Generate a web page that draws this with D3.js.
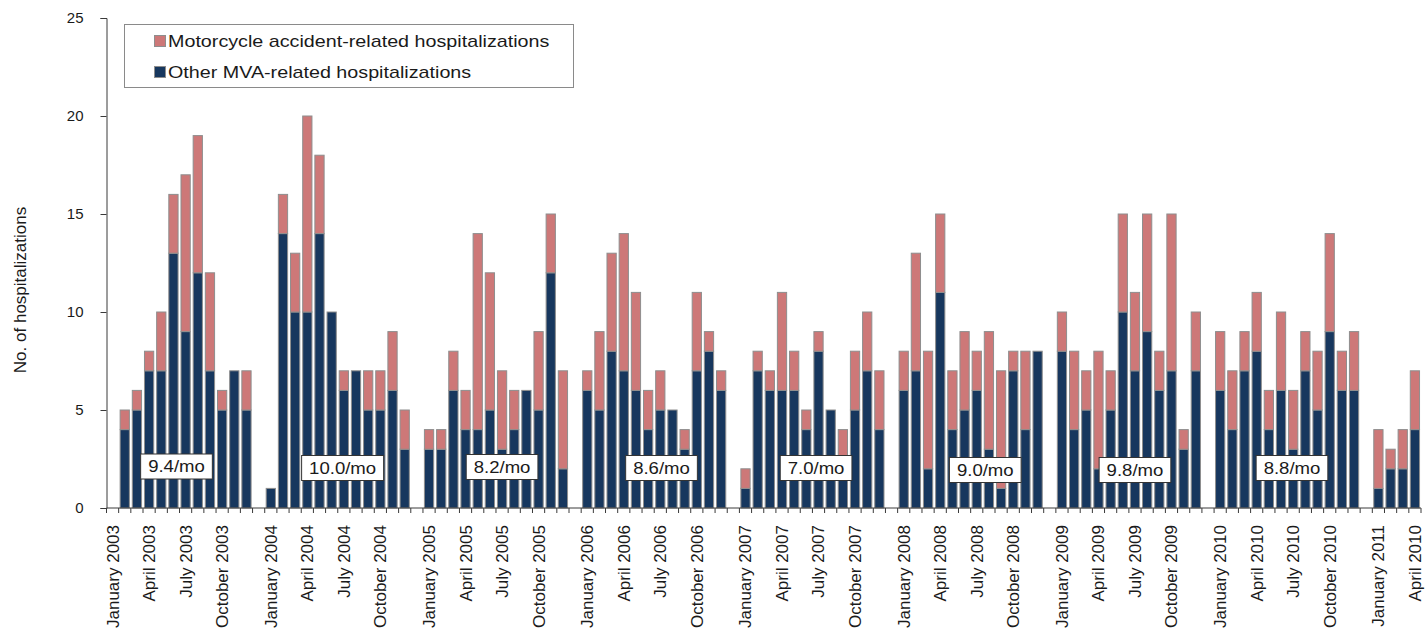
<!DOCTYPE html>
<html>
<head>
<meta charset="utf-8">
<script src="https://cdn.jsdelivr.net/npm/d3@7"></script>
<style>
  html, body { margin: 0; padding: 0; background: #fff; }
  svg { display: block; font-family: "Liberation Sans", Arial, sans-serif; }
</style>
</head>
<body>
<svg id="chart" width="1426" height="637"></svg>
<script>
// ---------------- DATA ----------------
const years = [2003, 2004, 2005, 2006, 2007, 2008, 2009, 2010, 2011];
const monthsPerYear = [12, 12, 12, 12, 12, 12, 12, 12, 4];

// Other MVA-related hospitalizations (dark), Jan 2003 .. Apr 2011
const otherMVA = [
  0, 4, 5, 7, 7, 13, 9, 12, 7, 5, 7, 5,      // 2003
  1, 14, 10, 10, 14, 10, 6, 7, 5, 5, 6, 3,   // 2004
  3, 3, 6, 4, 4, 5, 3, 4, 6, 5, 12, 2,       // 2005
  6, 5, 8, 7, 6, 4, 5, 5, 3, 7, 8, 6,        // 2006
  1, 7, 6, 6, 6, 4, 8, 5, 2, 5, 7, 4,        // 2007
  6, 7, 2, 11, 4, 5, 6, 3, 1, 7, 4, 8,       // 2008
  8, 4, 5, 2, 5, 10, 7, 9, 6, 7, 3, 7,       // 2009
  6, 4, 7, 8, 4, 6, 3, 7, 5, 9, 6, 6,        // 2010
  1, 2, 2, 4                                 // 2011
];
// Motorcycle accident-related hospitalizations (pink)
const motorcycle = [
  0, 1, 1, 1, 3, 3, 8, 7, 5, 1, 0, 2,        // 2003
  0, 2, 3, 10, 4, 0, 1, 0, 2, 2, 3, 2,       // 2004
  1, 1, 2, 2, 10, 7, 4, 2, 0, 4, 3, 5,       // 2005
  1, 4, 5, 7, 5, 2, 2, 0, 1, 4, 1, 1,        // 2006
  1, 1, 1, 5, 2, 1, 1, 0, 2, 3, 3, 3,        // 2007
  2, 6, 6, 4, 3, 4, 2, 6, 6, 1, 4, 0,        // 2008
  2, 4, 2, 6, 2, 5, 4, 6, 2, 8, 1, 3,        // 2009
  3, 3, 2, 3, 2, 4, 3, 2, 3, 5, 2, 3,        // 2010
  3, 1, 2, 3                                 // 2011
];

const seriesNames = ["Motorcycle accident-related hospitalizations", "Other MVA-related hospitalizations"];
const rateLabels = ["9.4/mo", "10.0/mo", "8.2/mo", "8.6/mo", "7.0/mo", "9.0/mo", "9.8/mo", "8.8/mo"];
const xTickLabels = [
  "January 2003", "April 2003", "July 2003", "October 2003",
  "January 2004", "April 2004", "July 2004", "October 2004",
  "January 2005", "April 2005", "July 2005", "October 2005",
  "January 2006", "April 2006", "July 2006", "October 2006",
  "January 2007", "April 2007", "July 2007", "October 2007",
  "January 2008", "April 2008", "July 2008", "October 2008",
  "January 2009", "April 2009", "July 2009", "October 2009",
  "January 2010", "April 2010", "July 2010", "October 2010",
  "January 2011", "April 2010"
];
const yTicks = [0, 5, 10, 15, 20, 25];
const yTitle = "No. of hospitalizations";

// ---------------- LAYOUT ----------------
const slotsPerYear = 13;              // 12 months + one gap slot
const nSlots = 108;
const plotLeft = 106.5, plotRight = 1421, plotTop = 18, plotBottom = 508;
const rateBoxOffset = [5.75, 6.4, 6.5, 6.6, 6.3, 7.2, 6.5, 6.4];   // slot units from year start (box centre)
const rateBoxY = [466.5, 468, 467, 468, 468, 470, 470, 468];
const colors = { moto: "#CD7878", other: "#17375E", barStroke: "#8E8E8E", axis: "#3a3a3a", text: "#1a1a1a" };
const hStretch = 1.16;

// build monthly records
const records = [];
let k = 0;
years.forEach((yr, yi) => {
  for (let m = 0; m < monthsPerYear[yi]; m++) {
    records.push({ slot: yi * slotsPerYear + m, other: otherMVA[k], moto: motorcycle[k] });
    k++;
  }
});

const svg = d3.select("#chart");

const x = d3.scaleBand().domain(d3.range(nSlots)).range([plotLeft, plotRight])
  .paddingInner(0.24).paddingOuter(0.12);
const step = x.step();
const y = d3.scaleLinear().domain([0, 25]).range([plotBottom, plotTop]);

// stacked bars
const stack = d3.stack().keys(["other", "moto"]);
const stacked = stack(records);
const fillFor = { other: colors.other, moto: colors.moto };

svg.append("g").selectAll("g").data(stacked).join("g")
  .attr("fill", d => fillFor[d.key])
  .selectAll("rect")
  .data(d => d.filter(s => s[1] - s[0] > 0))
  .join("rect")
  .attr("x", d => x(d.data.slot))
  .attr("width", x.bandwidth())
  .attr("y", d => y(d[1]))
  .attr("height", d => y(d[0]) - y(d[1]))
  .attr("stroke", colors.barStroke)
  .attr("stroke-width", 1);

// Y axis
const yAxis = d3.axisLeft(y).tickValues(yTicks).tickSize(6).tickPadding(17);
const gy = svg.append("g").attr("transform", `translate(${plotLeft},0)`).call(yAxis);
gy.select(".domain").attr("stroke", colors.axis);
gy.selectAll(".tick line").attr("stroke", colors.axis);
gy.selectAll(".tick text").attr("fill", colors.text).style("font-size", "15px")
  .style("font-family", '"Liberation Sans", Arial, sans-serif');

// X axis: line + boundary ticks
const gx = svg.append("g");
gx.append("line").attr("x1", plotLeft).attr("x2", plotRight)
  .attr("y1", plotBottom).attr("y2", plotBottom).attr("stroke", colors.axis);
gx.selectAll("line.tk").data(d3.range(nSlots + 1)).join("line").attr("class", "tk")
  .attr("x1", i => plotLeft + i * step).attr("x2", i => plotLeft + i * step)
  .attr("y1", plotBottom).attr("y2", plotBottom + 5).attr("stroke", colors.axis);

// X tick labels
gx.selectAll("text").data(xTickLabels).join("text")
  .attr("transform", (t, i) => {
    const slot = Math.floor(i / 4) * slotsPerYear + (i % 4) * 3;
    const cx = x(slot) + x.bandwidth() / 2;
    return `translate(${cx},${plotBottom + 17}) rotate(-90)`;
  })
  .attr("text-anchor", "end")
  .attr("dy", "0.35em")
  .attr("fill", colors.text)
  .style("font-size", "17px")
  .text(t => t);

// Y title
svg.append("text")
  .attr("transform", `translate(20,290) rotate(-90)`)
  .attr("text-anchor", "middle").attr("dy", "0.35em")
  .attr("fill", colors.text).style("font-size", "17px")
  .text(yTitle);

// rate boxes
rateLabels.forEach((lab, i) => {
  const cx = x(i * slotsPerYear) - step * 0.12 + rateBoxOffset[i] * step;
  const cy = rateBoxY[i];
  const g = svg.append("g");
  const t = g.append("text")
    .attr("transform", `translate(${cx},${cy}) scale(${hStretch},1)`)
    .attr("text-anchor", "middle").attr("dy", "0.36em")
    .attr("fill", colors.text).style("font-size", "16px").text(lab);
  const w = t.node().getComputedTextLength() * hStretch + 15;
  g.insert("rect", "text")
    .attr("x", cx - w / 2).attr("y", cy - 12.5).attr("width", w).attr("height", 25)
    .attr("fill", "#fff").attr("stroke", "#333").attr("stroke-width", 1);
});

// legend
const lg = svg.append("g");
lg.append("rect").attr("x", 124.5).attr("y", 24.5).attr("width", 449).attr("height", 63)
  .attr("fill", "#fff").attr("stroke", "#8a8a8a");
const legendItems = [{ name: seriesNames[0], color: colors.moto }, { name: seriesNames[1], color: colors.other }];
legendItems.forEach((it, i) => {
  const yy = 35 + i * 31;
  lg.append("rect").attr("x", 154.5).attr("y", yy + 0.5).attr("width", 11).attr("height", 11)
    .attr("fill", it.color).attr("stroke", colors.barStroke);
  lg.append("text")
    .attr("transform", `translate(168,${yy + 11.7}) scale(${hStretch},1)`)
    .attr("fill", colors.text).style("font-size", "17px").text(it.name);
});
</script>
</body>
</html>
